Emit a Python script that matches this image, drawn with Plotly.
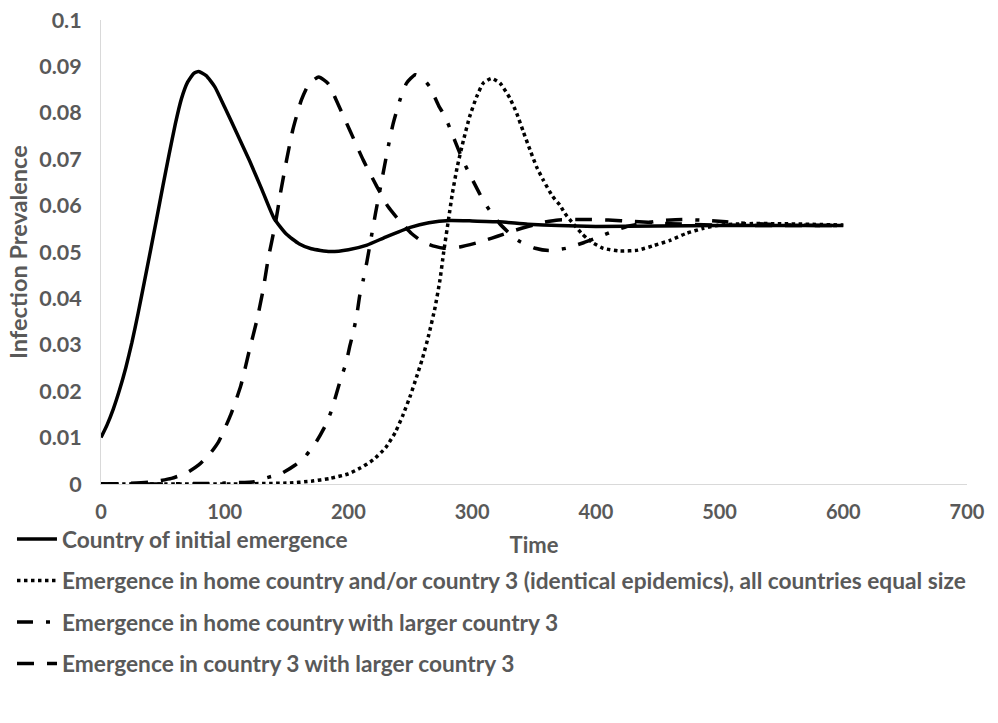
import plotly.graph_objects as go

# ---- data ----
t_initial = [0, 5, 10, 15, 20, 25, 30, 35, 40, 45, 50, 55, 60, 65, 70, 75, 79, 85, 92, 100, 110, 120, 130,
             140, 150, 160, 170, 185, 200, 215, 230, 250, 265, 282, 300, 322, 345, 370, 400, 450, 500, 550, 600]
v_initial = [0.0100, 0.0128, 0.0162, 0.0203, 0.0250, 0.0305, 0.0368, 0.0435, 0.0503, 0.0572, 0.0642, 0.0710,
             0.0775, 0.0830, 0.0866, 0.0885, 0.0889, 0.0880, 0.0856, 0.0812, 0.0755, 0.0697, 0.0635,
             0.0572, 0.0538, 0.0518, 0.0507, 0.0501, 0.0505, 0.0515, 0.0532, 0.0553, 0.0563, 0.0568, 0.0567,
             0.0565, 0.0560, 0.0557, 0.0555, 0.0556, 0.0557, 0.0557, 0.0557]

t_equal = [0, 100, 150, 170, 185, 200, 210, 220, 230, 238, 244, 250, 255, 260, 265, 270, 274, 277, 281,
           284, 288, 293, 298, 303.7, 309, 315.8, 322.5, 330.6, 336, 341.4, 346.8, 352, 357.5, 365, 371, 375,
           382, 388.5, 392.6, 398, 406, 419.5, 434, 447, 460, 473, 487, 500, 520, 550, 600]
v_equal = [0, 0, 0.0002, 0.0006, 0.0012, 0.0022, 0.0035, 0.0052, 0.0078, 0.0112, 0.0148, 0.0190, 0.0230,
           0.0272, 0.0322, 0.0380, 0.0440, 0.0500, 0.0572, 0.0626, 0.0684, 0.0741, 0.0792, 0.0835, 0.0864, 0.0874,
           0.0864, 0.0831, 0.0799, 0.0759, 0.0720, 0.0684, 0.0655, 0.0620, 0.0601, 0.0583, 0.0560, 0.0540,
           0.0530, 0.0519, 0.0508, 0.0502, 0.0504, 0.0514, 0.0525, 0.0540, 0.0551, 0.0558, 0.0561, 0.0561, 0.0558]

t_home_large3 = [0, 50, 100, 124, 132, 146, 157, 165, 174, 181, 186, 190, 194, 198, 201, 204, 207, 209, 212,
                 215, 218, 222, 227, 231.5, 236, 241.7, 247, 254, 260, 266, 273, 278, 283.5, 289, 293, 299.6,
                 306, 312, 322, 333, 339, 351, 362, 376, 390, 403, 413, 425, 441, 455, 470, 490, 520, 560, 600]
v_home_large3 = [0, 0, 0.0002, 0.0005, 0.0012, 0.0023, 0.0041, 0.0059, 0.0091, 0.0124, 0.0156, 0.0192,
                 0.0228, 0.0260, 0.0296, 0.0328, 0.0368, 0.0404, 0.0440, 0.0480, 0.0525, 0.0585, 0.0655,
                 0.0718, 0.0775, 0.0828, 0.0864, 0.0882, 0.0874, 0.0855, 0.0815, 0.0792, 0.0757, 0.0720,
                 0.0695, 0.0659, 0.0626, 0.0598, 0.0562, 0.0533, 0.0522, 0.0508, 0.0503, 0.0508, 0.0520,
                 0.0533, 0.0544, 0.0555, 0.0563, 0.0568, 0.0570, 0.0568, 0.0562, 0.0558, 0.0557]

t_c3_large3 = [0, 20, 40, 57, 70, 79, 88, 95, 105, 113, 120, 126, 131, 135, 141, 145, 150, 155, 162, 168, 176,
               184, 190, 201, 212, 223, 232, 242, 251, 260, 270, 277, 290, 304, 316, 325, 335, 345, 358, 370,
               390, 410, 430, 460, 500, 550, 600]
v_c3_large3 = [0, 0.0001, 0.0004, 0.0012, 0.0025, 0.0041, 0.0065, 0.0091, 0.0150, 0.0212, 0.0289, 0.0353,
               0.0418, 0.0483, 0.0562, 0.0626, 0.0698, 0.0763, 0.0828, 0.0862, 0.0877, 0.0862, 0.0828, 0.0763,
               0.0698, 0.0641, 0.0598, 0.0565, 0.0540, 0.0522, 0.0512, 0.0508, 0.0511, 0.0520, 0.0530, 0.0538,
               0.0547, 0.0555, 0.0564, 0.0569, 0.0570, 0.0569, 0.0566, 0.0561, 0.0558, 0.0557, 0.0557]

series_names = [
    "Country of initial emergence",
    "Emergence in home country and/or country 3 (identical epidemics), all countries equal size",
    "Emergence in home country with larger country 3",
    "Emergence in country 3 with larger country 3",
]
x_title = "Time"
y_title = "Infection Prevalence"
x_tickvals = [0, 100, 200, 300, 400, 500, 600, 700]
y_tickvals = [0, 0.01, 0.02, 0.03, 0.04, 0.05, 0.06, 0.07, 0.08, 0.09, 0.1]
y_ticktext = ["0", "0.01", "0.02", "0.03", "0.04", "0.05", "0.06", "0.07", "0.08", "0.09", "0.1"]

FONT = "Lato, 'Open Sans', sans-serif"
GREY = "#595959"

fig = go.Figure()
styles = [
    ("solid", 3.5),
    ("3.5px,3.5px", 3.5),
    ("16px,13px,4px,13px", 3.5),
    ("17px,13px", 3.5),
]
data = [(t_initial, v_initial), (t_equal, v_equal), (t_home_large3, v_home_large3), (t_c3_large3, v_c3_large3)]
for i, ((tx, vy), name, (dash, w)) in enumerate(zip(data, series_names, styles)):
    fig.add_trace(go.Scatter(
        x=tx, y=vy, mode="lines", name=name, legendgroup=f"g{i}",
        line=dict(color="black", width=w, dash=dash, shape="spline", smoothing=0.5),
    ))

fig.update_layout(
    width=998, height=723,
    margin=dict(l=101, r=31, t=20, b=239, autoexpand=False),
    paper_bgcolor="white", plot_bgcolor="white",
    font=dict(family=FONT, size=21, color=GREY, weight="bold"),
    showlegend=True,
    legend=dict(
        xref="container", yref="container", x=0.012, y=0.284, xanchor="left", yanchor="top",
        orientation="v", traceorder="grouped", tracegroupgap=9, itemwidth=40,
        font=dict(family=FONT, size=22.7, color=GREY, weight="bold"),
        bgcolor="rgba(0,0,0,0)",
    ),
    annotations=[dict(
        text=y_title, textangle=-90, xref="paper", yref="paper", x=0, y=0.5,
        xanchor="center", yanchor="middle", xshift=-83, showarrow=False,
        font=dict(family=FONT, size=23.5, color=GREY, weight="bold"),
    )],
)
fig.update_xaxes(
    range=[0, 700], tickmode="array", tickvals=x_tickvals,
    showgrid=False, zeroline=False, showline=True, linecolor="#d9d9d9", linewidth=1,
    ticks="outside", ticklen=10, tickcolor="rgba(0,0,0,0)",
    title=dict(text=x_title, font=dict(family=FONT, size=22, color=GREY, weight="bold"), standoff=15),
    tickfont=dict(family=FONT, size=20, color=GREY, weight="bold"),
)
fig.update_yaxes(
    range=[0, 0.1], tickmode="array", tickvals=y_tickvals, ticktext=y_ticktext,
    showgrid=False, zeroline=False, showline=True, linecolor="#d9d9d9", linewidth=1,
    ticks="outside", ticklen=14, tickcolor="rgba(0,0,0,0)",
    tickfont=dict(family=FONT, size=21.5, color=GREY, weight="bold"),
)

fig.write_html("out.html")
